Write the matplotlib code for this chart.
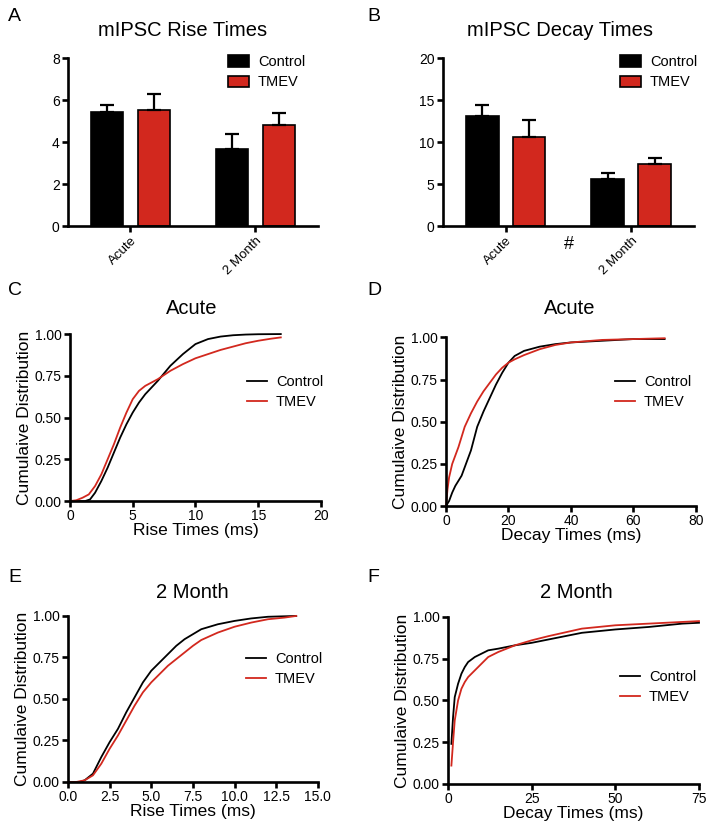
import numpy as np
import matplotlib
matplotlib.use('Agg')
import matplotlib.pyplot as plt
from matplotlib.patches import Patch

plt.rcParams['font.family'] = ['Liberation Sans', 'DejaVu Sans']

RED = '#d2281e'

# bar chart data (mean, upper error)
groups = ['Acute', '2 Month']
rise_ctrl = [5.45, 3.68]
rise_ctrl_err = [0.33, 0.70]
rise_tmev = [5.55, 4.83]
rise_tmev_err = [0.75, 0.57]
decay_ctrl = [13.1, 5.55]
decay_ctrl_err = [1.3, 0.8]
decay_tmev = [10.6, 7.4]
decay_tmev_err = [2.0, 0.7]

# cumulative distributions
c_ctrl_x = [0, 1.2, 1.6, 2, 2.5, 3, 3.5, 4, 4.5, 5, 5.5, 6, 7, 8, 9, 10, 11, 12, 13, 14, 15, 16.8]
c_ctrl_y = [0, 0, 0.01, 0.05, 0.12, 0.2, 0.29, 0.38, 0.46, 0.53, 0.59, 0.64, 0.72, 0.81, 0.88, 0.94, 0.97, 0.985, 0.993, 0.997, 0.999, 1.0]
c_tmev_x = [0, 0.5, 1, 1.5, 2, 2.5, 3, 3.5, 4, 4.5, 5, 5.5, 6, 7, 8, 9, 10, 11, 12, 13, 14, 15, 16, 16.8]
c_tmev_y = [0, 0.005, 0.02, 0.04, 0.09, 0.16, 0.25, 0.34, 0.44, 0.53, 0.61, 0.66, 0.69, 0.73, 0.78, 0.82, 0.855, 0.88, 0.905, 0.925, 0.945, 0.96, 0.972, 0.98]

d_ctrl_x = [0, 1, 2, 3, 5, 7, 8, 10, 12, 14, 16, 18, 20, 22, 25, 30, 35, 40, 50, 60, 70]
d_ctrl_y = [0, 0.03, 0.08, 0.12, 0.18, 0.28, 0.33, 0.47, 0.56, 0.64, 0.72, 0.79, 0.85, 0.89, 0.92, 0.945, 0.96, 0.97, 0.98, 0.99, 0.99]
d_tmev_x = [0, 0.5, 1, 2, 3, 4, 5, 6, 8, 10, 12, 14, 16, 18, 20, 22, 25, 30, 35, 40, 50, 60, 70]
d_tmev_y = [0, 0.1, 0.17, 0.25, 0.3, 0.35, 0.41, 0.47, 0.55, 0.62, 0.68, 0.73, 0.78, 0.82, 0.85, 0.87, 0.895, 0.93, 0.955, 0.97, 0.985, 0.99, 0.995]

e_ctrl_x = [0, 0.7, 1, 1.5, 2, 2.5, 3, 3.5, 4, 4.5, 5, 5.5, 6, 6.5, 7, 7.5, 8, 9, 10, 11, 12, 13.7]
e_ctrl_y = [0, 0, 0.01, 0.05, 0.15, 0.24, 0.32, 0.42, 0.51, 0.6, 0.67, 0.72, 0.77, 0.82, 0.86, 0.89, 0.92, 0.95, 0.97, 0.985, 0.995, 1.0]
e_tmev_x = [0, 0.5, 1, 1.5, 2, 2.5, 3, 3.5, 4, 4.5, 5, 5.5, 6, 6.5, 7, 7.5, 8, 9, 10, 11, 12, 13, 13.7]
e_tmev_y = [0, 0, 0.01, 0.04, 0.11, 0.2, 0.28, 0.37, 0.46, 0.54, 0.6, 0.65, 0.7, 0.74, 0.78, 0.82, 0.855, 0.9, 0.935, 0.96, 0.98, 0.99, 1.0]

f_ctrl_x = [1, 1.5, 2, 3, 4, 5, 6, 8, 10, 12, 15, 20, 25, 30, 40, 50, 60, 70, 75]
f_ctrl_y = [0.24, 0.4, 0.52, 0.6, 0.66, 0.7, 0.73, 0.76, 0.78, 0.8, 0.81, 0.83, 0.845, 0.865, 0.905, 0.925, 0.94, 0.96, 0.965]
f_tmev_x = [1, 1.5, 2, 3, 4, 5, 6, 8, 10, 12, 15, 20, 25, 30, 40, 50, 60, 70, 75]
f_tmev_y = [0.11, 0.25, 0.38, 0.5, 0.57, 0.61, 0.64, 0.68, 0.72, 0.76, 0.79, 0.83, 0.86, 0.885, 0.93, 0.95, 0.96, 0.97, 0.975]

fig = plt.figure(figsize=(7.14, 8.31), dpi=100)


def fig_title(x, y, s):
    fig.text(x / 714, 1 - y / 831, s, fontsize=14.5, ha='center', va='center')


def style(ax):
    for s in ['top', 'right']:
        ax.spines[s].set_visible(False)
    for s in ['left', 'bottom']:
        ax.spines[s].set_linewidth(1.9)
    ax.tick_params(width=1.9, length=4, labelsize=10, direction='out', pad=2)


def bar_panel(rect, ctrl, ctrl_err, tmev, tmev_err, ymax, step, leg_x, hash_mark=False):
    ax = fig.add_axes(rect)
    x = np.arange(len(groups))
    off, w = 0.187, 0.26
    ax.bar(x - off, ctrl, w, color='black', edgecolor='black', linewidth=1.2,
           yerr=[[0] * len(ctrl), ctrl_err], capsize=5, error_kw=dict(elinewidth=1.6, capthick=1.6))
    ax.bar(x + off, tmev, w, color=RED, edgecolor='black', linewidth=1.2,
           yerr=[[0] * len(tmev), tmev_err], capsize=5, error_kw=dict(elinewidth=1.6, capthick=1.6))
    ax.set_xlim(-0.5, 1.5)
    ax.set_ylim(0, ymax)
    ax.set_yticks(np.arange(0, ymax + 0.1, step))
    ax.set_xticks(x)
    style(ax)
    ax.set_xticklabels(groups, rotation=45, ha='right', rotation_mode='anchor', fontsize=9.5)
    ax.legend(handles=[Patch(facecolor='black', edgecolor='black', linewidth=1.2, label='Control'),
                       Patch(facecolor=RED, edgecolor='black', linewidth=1.2, label='TMEV')],
              loc='center left', bbox_to_anchor=(leg_x, 0.917), frameon=False, fontsize=10.5,
              borderaxespad=0, borderpad=0,
              handlelength=1.45, handleheight=0.85, handletextpad=0.6, labelspacing=0.45)
    if hash_mark:
        ax.text(0.5, -0.11, '#', transform=ax.get_xaxis_transform(), ha='center', va='center', fontsize=13)
    return ax


def cdf_panel(rect, cx, cy, tx, ty, xmax, xticks, xlabel, fmt, leg_pos):
    ax = fig.add_axes(rect)
    ax.plot(cx, cy, color='black', lw=1.3, label='Control', clip_on=False)
    ax.plot(tx, ty, color=RED, lw=1.3, label='TMEV', clip_on=False)
    ax.set_xlim(0, xmax)
    ax.set_ylim(0, 1)
    ax.set_xticks(xticks)
    ax.set_xticklabels([fmt.format(v) for v in xticks])
    ax.set_yticks([0, 0.25, 0.5, 0.75, 1.0])
    ax.set_yticklabels(['0.00', '0.25', '0.50', '0.75', '1.00'])
    style(ax)
    ax.set_xlabel(xlabel, fontsize=12.5, labelpad=0)
    ax.set_ylabel('Cumulaive Distribution', fontsize=12.5, labelpad=2)
    ax.legend(loc='center left', bbox_to_anchor=leg_pos, frameon=False, fontsize=10.5,
              borderaxespad=0, borderpad=0,
              handlelength=1.4, handletextpad=0.6, labelspacing=0.4)
    return ax


bar_panel([0.0952, 0.728, 0.350, 0.202], rise_ctrl, rise_ctrl_err, rise_tmev, rise_tmev_err, 8, 2, 0.64)
bar_panel([0.6204, 0.728, 0.3515, 0.202], decay_ctrl, decay_ctrl_err, decay_tmev, decay_tmev_err,
          20, 5, 0.705, hash_mark=True)

cdf_panel([0.098, 0.397, 0.3515, 0.201], c_ctrl_x, c_ctrl_y, c_tmev_x, c_tmev_y,
          20, [0, 5, 10, 15, 20], 'Rise Times (ms)', '{:g}', (0.705, 0.653))
cdf_panel([0.6246, 0.391, 0.350, 0.203], d_ctrl_x, d_ctrl_y, d_tmev_x, d_tmev_y,
          80, [0, 20, 40, 60, 80], 'Decay Times (ms)', '{:g}', (0.676, 0.677))
cdf_panel([0.0952, 0.059, 0.350, 0.1998], e_ctrl_x, e_ctrl_y, e_tmev_x, e_tmev_y,
          15, [0, 2.5, 5, 7.5, 10, 12.5, 15], 'Rise Times (ms)', '{:.1f}', (0.712, 0.68))
cdf_panel([0.6275, 0.0566, 0.3515, 0.201], f_ctrl_x, f_ctrl_y, f_tmev_x, f_tmev_y,
          75, [0, 25, 50, 75], 'Decay Times (ms)', '{:g}', (0.685, 0.58))

fig_title(183, 30, 'mIPSC Rise Times')
fig_title(560, 30, 'mIPSC Decay Times')
fig_title(192, 309, 'Acute')
fig_title(570, 309, 'Acute')
fig_title(192, 592, '2 Month')
fig_title(576, 592, '2 Month')

for letter, (px, py) in zip('ABCDEF', [(8, 8), (367, 8), (8, 282), (367, 282), (8, 569), (367, 569)]):
    fig.text(px / 714, 1 - py / 831, letter, fontsize=14, ha='left', va='top')

fig.savefig('out.png', dpi=100)
